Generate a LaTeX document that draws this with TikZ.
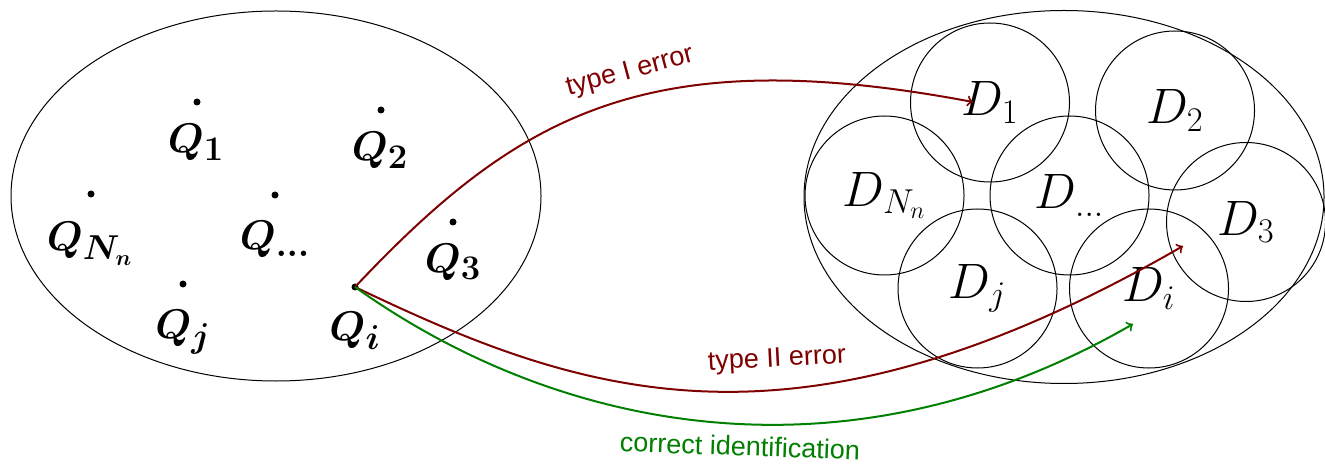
\documentclass[tikz,border=0pt]{standalone}
\usepackage{fontspec}
\newfontfamily\sanslab{Liberation Sans}
\usetikzlibrary{shapes.geometric,calc}
\definecolor{darkred}{RGB}{127,0,0}
\definecolor{darkgreen}{RGB}{0,127,0}
\tikzset{
  region/.style={draw, ellipse, line width=0.5pt, inner sep=0pt},
  dnode/.style={draw, circle, line width=0.5pt, minimum size=79.5pt, inner sep=0pt,
    font=\fontsize{25.6}{30}\selectfont},
  qdot/.style={circle, fill, inner sep=0pt, minimum size=3.5pt},
  qlab/.style={anchor=base, font=\fontsize{22.8}{27}\selectfont\boldmath},
  conn/.style={line width=1pt, ->},
  elab/.style={font=\sanslab\fontsize{13.5}{16}\selectfont, inner sep=0pt}
}
\begin{document}
\begin{tikzpicture}[x=0.5pt,y=-0.5pt]
\useasboundingbox (0,0) rectangle (1325,464);

% regions
\node[region, minimum width=265pt, minimum height=185pt] (L) at (276,196) {};
\node[region, minimum width=260pt, minimum height=186.5pt] (R) at (1064,197) {};

% query points
\node[qdot] (q1) at (197,102) {};
\node[qdot] (q2) at (381,110) {};
\node[qdot] (qN) at (91,194) {};
\node[qdot] (qd) at (275,195) {};
\node[qdot] (q3) at (453,222) {};
\node[qdot] (qj) at (183,284) {};
\node[qdot] (qi) at (355,287) {};

\node[qlab] (lq1) at (196,153) {$Q_1$};
\node[qlab] (lq2) at (380,161) {$Q_2$};
\node[qlab] (lqN) at (90,251) {$Q_{N_n}$};
\node[qlab] (lqd) at (275,250) {$Q_{\dots}$};
\node[qlab] (lq3) at (453,272) {$Q_3$};
\node[qlab] (lqj) at (183,338) {$Q_j$};
\node[qlab] (lqi) at (355,340) {$Q_i$};

% database discs
\node[dnode] (D1) at (990,102.5) {$D_1$};
\node[dnode] (D2) at (1175,110.5) {$D_2$};
\node[dnode] (DN) at (884.5,195.5) {$D_{N_n}$};
\node[dnode] (Dd) at (1069.5,195.5) {$D_{\dots}$};
\node[dnode] (D3) at (1246,222) {$D_3$};
\node[dnode] (Dj) at (977.5,288.5) {$D_j$};
\node[dnode] (Di) at (1149,288.5) {$D_i$};

% arrow ends
\coordinate (e1) at (973,102);
\coordinate (e2) at (1183,246);
\coordinate (e3) at (1133,324);

% connectors
\draw[conn, darkred] (qi.center) .. controls (519,113) and (649,41) .. (e1);
\draw[conn, darkred] (qi.center) .. controls (581,395) and (793,471) .. (e2);
\draw[conn, darkgreen] (qi.center) .. controls (560,433) and (847,489) .. (e3);

% connector labels
\node[elab, text=darkred, rotate=15] (t1) at (630,72) {type I error};
\node[elab, text=darkred, rotate=3] (t2) at (777,360) {type II error};
\node[elab, text=darkgreen, rotate=-2] (t3) at (740,446) {correct identification};
\end{tikzpicture}
\end{document}
